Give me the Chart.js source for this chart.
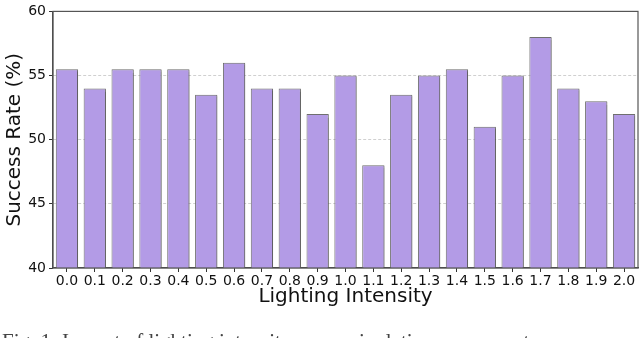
<!DOCTYPE html>
<html>
<head>
<meta charset="utf-8">
<script src="https://cdn.jsdelivr.net/npm/chart.js@4"></script>
<style>
    html, body { margin: 0; padding: 0; background: #fff; overflow: hidden; }
    #wrap { position: relative; width: 640px; height: 338px; overflow: hidden; }
    #caption {
        position: absolute; left: 2px; top: 329px; white-space: nowrap;
        font-family: "Liberation Serif", serif; font-size: 21px; color: #444;
    }
</style>
</head>
<body>
<div id="wrap">
    <canvas id="chart" width="640" height="338"></canvas>
    <div id="caption">Fig. 1: Impact of lighting intensity on manipulation success rate</div>
</div>
<script>
// lighting intensity levels and success rates (%)
const intensities = ["0.0", "0.1", "0.2", "0.3", "0.4", "0.5", "0.6", "0.7", "0.8", "0.9", "1.0",
    "1.1", "1.2", "1.3", "1.4", "1.5", "1.6", "1.7", "1.8", "1.9", "2.0"];
const successRates = [55.5, 54, 55.5, 55.5, 55.5, 53.5, 56, 54, 54, 52, 55,
    48, 53.5, 55, 55.5, 51, 55, 58, 54, 53, 52];
const yTicks = [40, 45, 50, 55, 60];

const font = "'DejaVu Sans', sans-serif";

// soft shadow on the bars + box around the plot area
const framePlugin = {
    id: "frame",
    beforeDatasetsDraw(chart) {
        const ctx = chart.ctx;
        ctx.save();
        ctx.shadowColor = "rgba(0,0,0,0.25)";
        ctx.shadowOffsetX = 2;
        ctx.shadowOffsetY = 1;
        ctx.shadowBlur = 1;
    },
    afterDatasetsDraw(chart) {
        chart.ctx.restore();
    },
    afterDraw(chart) {
        const a = chart.chartArea;
        const ctx = chart.ctx;
        ctx.save();
        ctx.strokeStyle = "#555";
        ctx.lineWidth = 1.2;
        ctx.strokeRect(a.left, a.top, a.right - a.left, a.bottom - a.top);
        ctx.restore();
    },
};

new Chart(document.getElementById("chart"), {
    type: "bar",
    data: {
        labels: intensities,
        datasets: [{
            data: successRates,
            backgroundColor: "#b39be6",
            borderColor: "#6f6f6f",
            borderWidth: 1,
            barPercentage: 0.8,
            categoryPercentage: 1.0,
        }],
    },
    options: {
        responsive: false,
        animation: false,
        layout: { padding: { top: 6, right: 2, left: 0, bottom: 29 } },
        plugins: {
            legend: { display: false },
            tooltip: { enabled: false },
        },
        scales: {
            x: {
                offset: true,
                grid: {
                    offset: false,
                    drawOnChartArea: false,
                    drawTicks: true,
                    tickLength: 4,
                    tickColor: "#333",
                },
                border: { display: true, color: "#444", width: 1.2 },
                ticks: { color: "#111", font: { family: font, size: 14 }, padding: 1, maxRotation: 0, autoSkip: false },
                title: {
                    display: true, text: "Lighting Intensity", color: "#111",
                    font: { family: font, size: 20 }, padding: { top: 0, bottom: 0 },
                },
                afterFit(scale) { scale.height = 41; },
            },
            y: {
                min: 40,
                max: 60,
                afterBuildTicks(scale) { scale.ticks = yTicks.map((v) => ({ value: v })); },
                grid: {
                    color: (c) => (c.tick && (c.tick.value === 40 || c.tick.value === 60) ? "rgba(0,0,0,0)" : "#d0d0d0"),
                    lineWidth: 1,
                    tickLength: 4,
                    tickColor: "#333",
                    tickBorderDash: [],
                },
                border: { display: true, color: "#444", width: 1.2, dash: [3, 2] },
                ticks: { color: "#111", font: { family: font, size: 14 }, padding: 3 },
                title: {
                    display: true, text: "Success Rate (%)", color: "#111",
                    font: { family: font, size: 20 }, padding: 3,
                },
                afterFit(scale) { scale.width = 53; },
            },
        },
    },
    plugins: [framePlugin],
});
</script>
</body>
</html>
